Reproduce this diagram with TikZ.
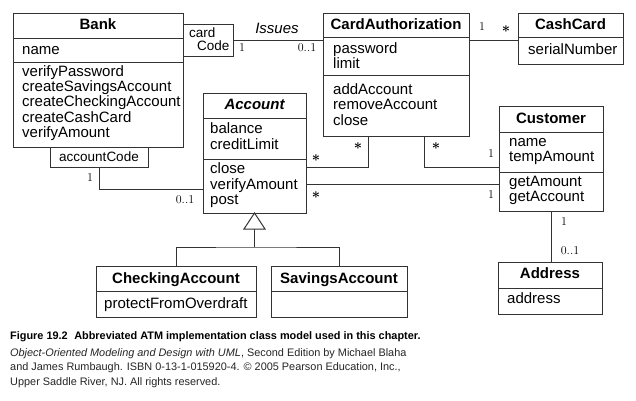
\documentclass[tikz,border=0pt]{standalone}
\usepackage{fontspec}
\setmainfont{Liberation Sans}
\newfontfamily\multfont{Latin Modern Roman}
\usetikzlibrary{calc}
\newcommand\clsfont{\fontsize{15}{15}\selectfont}
\newcommand\qualfont{\fontsize{13.5}{13.5}\selectfont}
\tikzset{
  ln/.style={line width=1pt, draw=black!80},
  box/.style={ln, rectangle, inner sep=0pt, outer sep=0pt, anchor=north west},
  ttl/.style={font=\clsfont\bfseries, anchor=base, inner sep=0pt},
  txt/.style={font=\clsfont, anchor=base west, inner sep=0pt},
  qtxt/.style={font=\qualfont, anchor=base west, inner sep=0pt},
  mult/.style={font=\multfont\fontsize{12}{12}\selectfont, inner sep=0pt},
  star/.style={font=\fontsize{15}{15}\selectfont\boldmath, inner sep=0pt},
}
\begin{document}
\begin{tikzpicture}[x=1pt,y=-1pt]
\useasboundingbox[fill=white] (0,0) rectangle (636,400);

% ---------- Bank ----------
\node[box, minimum width=170pt, minimum height=134pt] (bank) at (13,13) {};
\draw[ln] (bank.west |- 0,38) -- (bank.east |- 0,38);
\draw[ln] (bank.west |- 0,62) -- (bank.east |- 0,62);
\node[ttl] (bankT) at (98,29.5) {Bank};
\node[txt] (bankA) at (22,54.5) {name};
\foreach \t [count=\i] in {verifyPassword,createSavingsAccount,createCheckingAccount,createCashCard,verifyAmount}
  \node[txt] (bankO\i) at (22,{76+15.4*(\i-1)}) {\t};

% qualifier cardCode
\node[box, minimum width=50pt, minimum height=32pt] (qcard) at (183,24) {};
\node[qtxt] (qcard1) at (189,37) {card};
\node[qtxt, anchor=base east] (qcard2) at (229.5,50.5) {Code};

% qualifier accountCode
\node[box, minimum width=98pt, minimum height=20pt] (qacc) at (50,147) {};
\node[font=\qualfont, anchor=base, inner sep=0pt] (qaccT) at (99,161) {accountCode};

% ---------- Account ----------
\node[box, minimum width=103pt, minimum height=120pt] (account) at (203,93) {};
\draw[ln] (account.west |- 0,118) -- (account.east |- 0,118);
\draw[ln] (account.west |- 0,159) -- (account.east |- 0,159);
\node[ttl, font=\clsfont\bfseries\itshape] (accountT) at (254.5,109) {Account};
\node[txt] (accA1) at (210,133.5) {balance};
\node[txt] (accA2) at (210,149) {creditLimit};
\node[txt] (accO1) at (210,173.5) {close};
\node[txt] (accO2) at (210,189) {verifyAmount};
\node[txt] (accO3) at (210,204.5) {post};

% ---------- CardAuthorization ----------
\node[box, minimum width=146pt, minimum height=123pt] (cardauth) at (323,13) {};
\draw[ln] (cardauth.west |- 0,37) -- (cardauth.east |- 0,37);
\draw[ln] (cardauth.west |- 0,75) -- (cardauth.east |- 0,75);
\node[ttl] (cardauthT) at (396,29) {CardAuthorization};
\node[txt] (caA1) at (333,53) {password};
\node[txt] (caA2) at (333,68) {limit};
\node[txt] (caO1) at (333,94) {addAccount};
\node[txt] (caO2) at (333,109.5) {removeAccount};
\node[txt] (caO3) at (333,125) {close};

% ---------- CashCard ----------
\node[box, minimum width=105pt, minimum height=51pt] (cashcard) at (518,13) {};
\draw[ln] (cashcard.west |- 0,37) -- (cashcard.east |- 0,37);
\node[ttl] (cashcardT) at (570.5,29) {CashCard};
\node[txt] (ccA1) at (528,54) {serialNumber};

% ---------- Customer ----------
\node[box, minimum width=104pt, minimum height=105pt] (customer) at (499,106) {};
\draw[ln] (customer.west |- 0,132) -- (customer.east |- 0,132);
\draw[ln] (customer.west |- 0,172) -- (customer.east |- 0,172);
\node[ttl] (customerT) at (551,123.5) {Customer};
\node[txt] (cuA1) at (509,146.5) {name};
\node[txt] (cuA2) at (509,161.5) {tempAmount};
\node[txt] (cuO1) at (509,186) {getAmount};
\node[txt] (cuO2) at (509,201) {getAccount};

% ---------- CheckingAccount / SavingsAccount ----------
\node[box, minimum width=160pt, minimum height=51pt] (checking) at (96,266) {};
\draw[ln] (checking.west |- 0,291) -- (checking.east |- 0,291);
\node[ttl] (checkingT) at (176,283) {CheckingAccount};
\node[txt] (chO1) at (104,308) {protectFromOverdraft};

\node[box, minimum width=136pt, minimum height=51pt] (savings) at (271,266) {};
\draw[ln] (savings.west |- 0,291) -- (savings.east |- 0,291);
\node[ttl] (savingsT) at (339,283) {SavingsAccount};

% ---------- Address ----------
\node[box, minimum width=104pt, minimum height=52pt] (address) at (498,262) {};
\draw[ln] (address.west |- 0,288) -- (address.east |- 0,288);
\node[ttl] (addressT) at (550,278) {Address};
\node[txt] (adA1) at (507,303) {address};

% ---------- Associations ----------
\draw[ln] (qcard.east) -- (qcard.east -| cardauth.west);
\node[font=\clsfont\itshape, inner sep=0pt] (issues) at (277,28) {Issues};
\node[mult] (m1) at (242,48) {1};
\node[mult] (m2) at (307,48) {0..1};

\draw[ln] (cardauth.east |- 0,40) -- (cashcard.west |- 0,40);
\node[mult] (m3) at (482,27) {1};
\node[star] (m4) at (506,29) {$\ast$};

\coordinate (accCorner) at (99,189);
\draw[ln] (qacc.south -| accCorner) -- (accCorner) -- (accCorner -| account.west);
\node[mult] (m5) at (90,178) {1};
\node[mult] (m6) at (185,200) {0..1};

\coordinate (acCorner) at (368,167);
\draw[ln] (account.east |- acCorner) -- (acCorner) -- (acCorner |- cardauth.south);
\node[star] (m7) at (316,158) {$\ast$};
\node[star] (m8) at (358,146) {$\ast$};

\coordinate (ccCorner) at (424,167);
\draw[ln] (ccCorner |- cardauth.south) -- (ccCorner) -- (ccCorner -| customer.west);
\node[star] (m9) at (436,146) {$\ast$};
\node[mult] (m10) at (491,154) {1};

\coordinate (acuY) at (0,184);
\draw[ln] (account.east |- acuY) -- (customer.west |- acuY);
\node[star] (m11) at (316,195) {$\ast$};
\node[mult] (m12) at (491,195) {1};

\draw[ln] (customer.south) -- (customer.south |- address.north);
\node[mult] (m13) at (564,222) {1};
\node[mult] (m14) at (570,251) {0..1};

% generalization
\draw[ln, fill=white] (account.south) -- ++(-10.5,16) coordinate (triL) -- ++(21,0) -- cycle;
\coordinate (gBase) at ($(account.south)+(0,16)$);
\coordinate (gJoin) at ($(gBase)+(0,18)$);
\draw[ln] (gBase) -- (gJoin);
\draw[ln] (checking.north) |- (gJoin) -| (savings.north);

% ---------- Caption ----------
\node[anchor=base west, inner sep=0pt, font=\fontsize{10.9}{12}\selectfont\bfseries] (caption) at (10,339)
  {Figure 19.2\hspace{0.6em}Abbreviated ATM implementation class model used in this chapter.};
\node[anchor=base west, inner sep=0pt, text=black!85, font=\fontsize{10.9}{12}\selectfont] (cred1) at (10,356)
  {\textit{Object-Oriented Modeling and Design with UML}, Second Edition by Michael Blaha};
\node[anchor=base west, inner sep=0pt, text=black!85, font=\fontsize{10.9}{12}\selectfont] (cred2) at (10,370.5)
  {and James Rumbaugh. ISBN 0-13-1-015920-4. © 2005 Pearson Education, Inc.,};
\node[anchor=base west, inner sep=0pt, text=black!85, font=\fontsize{10.9}{12}\selectfont] (cred3) at (10,385)
  {Upper Saddle River, NJ. All rights reserved.};
\end{tikzpicture}
\end{document}
